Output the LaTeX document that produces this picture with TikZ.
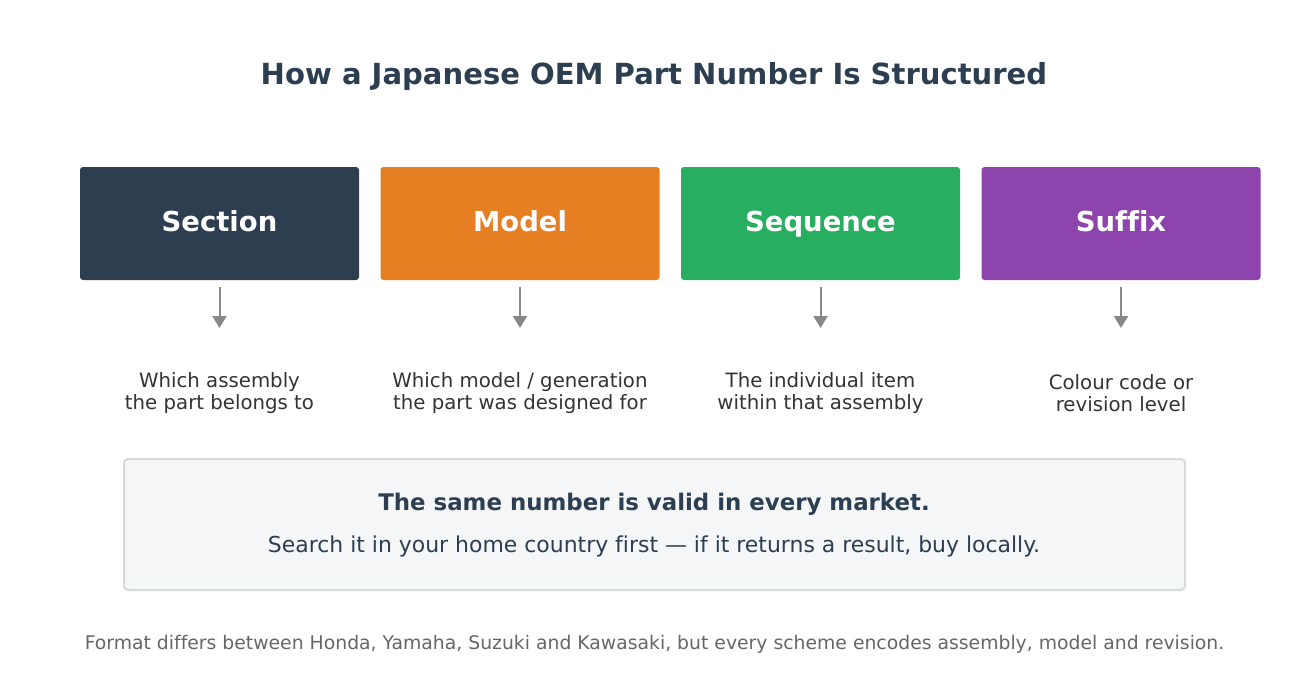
\documentclass[tikz,border=0pt]{standalone}
\usepackage{fontspec}
\setmainfont[Ligatures=NoCommon]{DejaVu Sans}
\usetikzlibrary{arrows.meta,positioning}
\definecolor{ink}{HTML}{2C3E50}
\definecolor{orange}{HTML}{E67E22}
\definecolor{green}{HTML}{27AE60}
\definecolor{purple}{HTML}{8E44AD}
\definecolor{arrowgrey}{HTML}{888888}
\definecolor{notefill}{HTML}{F4F6F7}
\definecolor{noteline}{HTML}{D5DBDB}
\def\fs#1#2{\fontsize{#1}{#2}\selectfont}

\begin{document}
\begin{tikzpicture}[x=0.75pt,y=-0.75pt,
    title/.style={text=ink, font=\fs{21.8}{26}\bfseries},
    part/.style={fill=#1, text=white, font=\fs{20.6}{24}\bfseries, rounded corners=2.25pt,
      minimum width=209.25pt, minimum height=84.75pt, inner sep=0pt,
      text height=12pt, text depth=0pt},
    desc/.style={text=black!80, font=\fs{14.8}{16.5}, align=center, inner sep=0pt},
    link/.style={draw=arrowgrey, line width=1.5pt, -{Triangle[width=10.5pt,length=9pt]}},
    note/.style={fill=notefill, draw=noteline, line width=1.5pt, rounded corners=3pt,
      minimum width=795.75pt, minimum height=98.25pt, inner sep=0pt},
    footer/.style={text=black!60, font=\fs{14.1}{17}}]
  \useasboundingbox (0,0) rectangle (1308,699);

  \node[title] (title) at (654,76) {How a Japanese OEM Part Number Is Structured};

  \foreach \n/\x/\c/\lbl/\txt in {
      sec/219.5/ink/Section/{Which assembly\\the part belongs to},
      mod/520/orange/Model/{Which model / generation\\the part was designed for},
      seq/820.5/green/Sequence/{The individual item\\within that assembly},
      suf/1121/purple/Suffix/{Colour code or\\revision level}} {
    \node[part=\c] (\n) at (\x,223.5) {\lbl};
    \node[desc] (\n-desc) at (\x,393) {\txt};
    \coordinate (\n-tip) at (\x,328);
    \draw[link] ([yshift=-5.25pt]\n.south) -- (\n-tip);
  }

  \node[note] (note) at (654.5,524.5) {};
  \node[text=ink, font=\fs{17.15}{20}\bfseries] (note-head) at (654,504.5) {The same number is valid in every market.};
  \node[text=ink, font=\fs{16.45}{20}] (note-body) at (654,546.5) {Search it in your home country first — if it returns a result, buy locally.};

  \node[footer] (foot) at (654.5,644) {Format differs between Honda, Yamaha, Suzuki and Kawasaki, but every scheme encodes assembly, model and revision.};
\end{tikzpicture}
\end{document}
